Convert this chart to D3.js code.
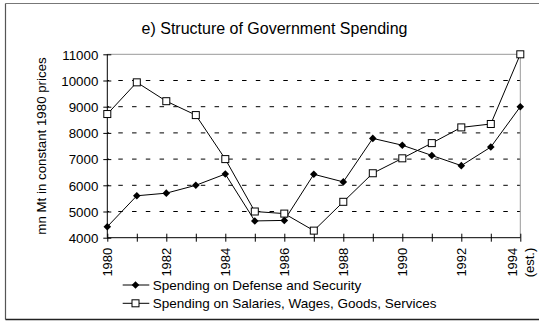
<!DOCTYPE html>
<html>
<head>
<meta charset="utf-8">
<script src="https://cdn.jsdelivr.net/npm/d3@7/dist/d3.min.js"></script>
<style>
  html, body { margin: 0; padding: 0; background: #fff; }
  svg { display: block; font-family: "Liberation Sans", Arial, sans-serif; }
</style>
</head>
<body>
<svg id="chart" width="539" height="322"></svg>
<script>
// Government spending, mn Mt in constant 1980 prices
const years = [1980, 1981, 1982, 1983, 1984, 1985, 1986, 1987, 1988, 1989, 1990, 1991, 1992, 1993, 1994];
const yearLabels = ["1980", "", "1982", "", "1984", "", "1986", "", "1988", "", "1990", "", "1992", "", "1994|(est.)"];
const defense = [4420, 5600, 5700, 6000, 6430, 4640, 4660, 6420, 6130, 7790, 7530, 7140, 6750, 7460, 9000];
const salaries = [8720, 9930, 9210, 8680, 7000, 5000, 4920, 4270, 5370, 6460, 7030, 7610, 8210, 8340, 11000];
const yTicks = [4000, 5000, 6000, 7000, 8000, 9000, 10000, 11000];
const seriesNames = ["Spending on Defense and Security", "Spending on Salaries, Wages, Goods, Services"];

const svg = d3.select("#chart");
const plot = { left: 107.3, right: 520.3, top: 54.3, bottom: 237.7 };

const x = d3.scalePoint().domain(years).range([plot.left, plot.right]);
const y = d3.scaleLinear().domain([4000, 11000]).range([plot.bottom, plot.top]);

// outer frame
svg.append("line").attr("x1", 5.5).attr("x2", 539).attr("y1", 3.5).attr("y2", 3.5)
  .attr("stroke", "#777").attr("stroke-width", 1.2);
svg.append("line").attr("x1", 5.5).attr("x2", 5.5).attr("y1", 3.5).attr("y2", 319.5)
  .attr("stroke", "#555").attr("stroke-width", 1.2);
svg.append("line").attr("x1", 5.5).attr("x2", 539).attr("y1", 319.5).attr("y2", 319.5)
  .attr("stroke", "#222").attr("stroke-width", 1.5);

// title
svg.append("text").attr("x", 274.5).attr("y", 34).attr("text-anchor", "middle")
  .attr("font-size", 16).attr("fill", "#000").text("e) Structure of Government Spending");

// dashed gridlines
svg.append("g").selectAll("line")
  .data(yTicks.filter(d => d > 4000 && d < 11000))
  .join("line")
  .attr("x1", plot.left).attr("x2", plot.right)
  .attr("y1", d => y(d)).attr("y2", d => y(d))
  .attr("stroke", "#000").attr("stroke-width", 1)
  .attr("stroke-dasharray", "4.5,9.25").attr("stroke-dashoffset", 2.75);

// plot border (top and right)
svg.append("line").attr("x1", plot.left).attr("x2", plot.right)
  .attr("y1", plot.top).attr("y2", plot.top).attr("stroke", "#999");
svg.append("line").attr("x1", plot.right).attr("x2", plot.right)
  .attr("y1", plot.top).attr("y2", plot.bottom).attr("stroke", "#999");

// y axis
const yAxis = svg.append("g").attr("transform", `translate(${plot.left},0)`)
  .call(d3.axisLeft(y).tickValues(yTicks).tickFormat(d3.format("d")).tickSize(4).tickPadding(5));
yAxis.select(".domain").attr("stroke", "#000").attr("d", `M0,${plot.top}V${plot.bottom}`);
yAxis.selectAll(".tick line").attr("x1", 4).attr("x2", -4).attr("stroke", "#000");
yAxis.selectAll(".tick text").attr("font-size", 13.3).attr("font-family", "Liberation Sans, Arial, sans-serif")
  .attr("fill", "#000").attr("x", -9).attr("dy", "0.36em");

// x axis
const xAxis = svg.append("g").attr("transform", `translate(0,${plot.bottom})`)
  .call(d3.axisBottom(x).tickSize(4).tickFormat(""));
xAxis.select(".domain").attr("stroke", "#000").attr("d", `M${plot.left},0H${plot.right}`);
xAxis.selectAll(".tick line").attr("y1", -4).attr("y2", 4).attr("stroke", "#000");
xAxis.selectAll(".tick text").remove();

const labelG = svg.append("g").attr("font-size", 13).attr("fill", "#000");
years.forEach((yr, i) => {
  const lab = yearLabels[i];
  if (!lab) return;
  const lines = lab.split("|");
  const t = labelG.append("text")
    .attr("transform", `translate(${x(yr)},${plot.bottom + 10}) rotate(-90)`)
    .attr("text-anchor", "end");
  if (lines.length === 1) {
    t.append("tspan").attr("x", 0).attr("y", 0).attr("dy", "0.36em").text(lines[0]);
  } else {
    t.append("tspan").attr("x", 0).attr("y", -3.8).text(lines[0]);
    t.append("tspan").attr("x", 0).attr("y", 13.4).text(lines[1]);
  }
});

// y axis title
svg.append("text")
  .attr("transform", `translate(41.5,${(plot.top + plot.bottom) / 2}) rotate(-90)`)
  .attr("text-anchor", "middle").attr("dy", "0.36em")
  .attr("font-size", 13.3).attr("fill", "#000")
  .text("mn Mt in constant 1980 prices");

// series lines
const line = d3.line().x((d, i) => x(years[i])).y(d => y(d));
svg.append("path").datum(defense).attr("d", line)
  .attr("fill", "none").attr("stroke", "#000").attr("stroke-width", 1);
svg.append("path").datum(salaries).attr("d", line)
  .attr("fill", "none").attr("stroke", "#000").attr("stroke-width", 1);

const diamond = (cx, cy, r) => `M${cx},${cy - r}L${cx + r},${cy}L${cx},${cy + r}L${cx - r},${cy}Z`;

// markers
svg.append("g").selectAll("path").data(defense).join("path")
  .attr("d", (d, i) => diamond(x(years[i]), y(d), 3.8))
  .attr("fill", "#000");
svg.append("g").selectAll("rect").data(salaries).join("rect")
  .attr("x", (d, i) => x(years[i]) - 3.5).attr("y", d => y(d) - 3.5)
  .attr("width", 7).attr("height", 7)
  .attr("fill", "#fff").attr("stroke", "#000").attr("stroke-width", 1);

// legend
const legend = svg.append("g");
const legRows = [285, 303.3];
seriesNames.forEach((name, i) => {
  const ly = legRows[i];
  legend.append("line").attr("x1", 122.7).attr("x2", 149.3).attr("y1", ly).attr("y2", ly)
    .attr("stroke", "#000").attr("stroke-width", 1);
  if (i === 0) {
    legend.append("path").attr("d", diamond(135.5, ly, 3.8)).attr("fill", "#000");
  } else {
    legend.append("rect").attr("x", 132).attr("y", ly - 3.5).attr("width", 7).attr("height", 7)
      .attr("fill", "#fff").attr("stroke", "#000");
  }
  legend.append("text").attr("x", 152.7).attr("y", ly).attr("dy", "0.38em")
    .attr("font-size", 13.5).attr("fill", "#000").text(name);
});
</script>
</body>
</html>
